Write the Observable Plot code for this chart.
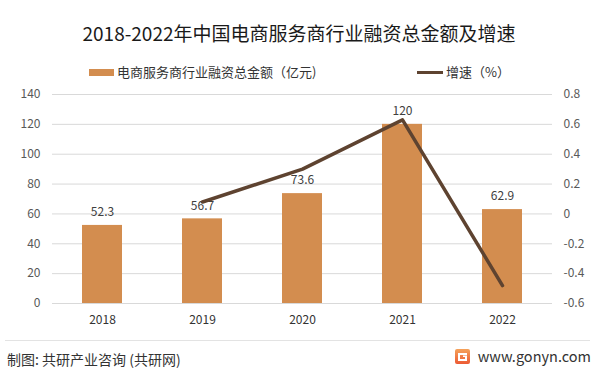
<!DOCTYPE html>
<html><head><meta charset="utf-8">
<script src="https://cdn.jsdelivr.net/npm/d3@7"></script>
<script src="https://cdn.jsdelivr.net/npm/@observablehq/plot@0.6"></script>
<style>
body{margin:0;background:#fff;}
#wrap{position:relative;width:598px;height:372px;overflow:hidden;font-family:"Noto Sans CJK SC","Noto Sans",sans-serif;background:#fff}
#title{position:absolute;left:0;width:598px;top:19px;text-align:center;font-size:19px;line-height:28px;color:#1a1a1a;white-space:nowrap}
.leg{position:absolute;top:63px;height:18px;line-height:18px;font-size:13px;color:#333;white-space:nowrap;display:flex;align-items:center}
.sw{display:inline-block;margin-right:3px}
#chart{position:absolute;left:0;top:85px}
#rule{position:absolute;left:5px;width:585px;top:340px;height:1px;background:#e3e3e3}
#src{position:absolute;left:7px;top:349px;font-size:14px;line-height:20px;color:#333;white-space:nowrap}
#site{position:absolute;right:7px;top:346px;font-size:14.5px;line-height:20px;color:#333;white-space:nowrap;display:flex;align-items:center}
</style>
</head><body>
<div id="wrap">
  <div id="title">2018-2022年中国电商服务商行业融资总金额及增速</div>
  <div class="leg" style="left:89px"><span class="sw" style="width:25px;height:7px;background:#d38d4f"></span>电商服务商行业融资总金额（亿元)</div>
  <div class="leg" style="left:417px"><span class="sw" style="width:26px;height:3px;background:#5e4330"></span>增速（%）</div>
  <div id="chart"></div>
  <div id="rule"></div>
  <div id="src">制图: 共研产业咨询 (共研网)</div>
  <div id="site"><svg width="15" height="15" viewBox="0 0 15 15" style="margin-right:8px"><defs><linearGradient id="lg" x1="0" y1="0" x2="0" y2="1"><stop offset="0" stop-color="#f5a25a"/><stop offset="1" stop-color="#ec5a34"/></linearGradient></defs><rect x="0" y="0" width="15" height="15" rx="2" fill="url(#lg)"/><path d="M3 4h9v2H5v4h5V8H8V6.5h4V12H3z" fill="#fff"/></svg>www.gonyn.com</div>
</div>
<script>
const years = ["2018", "2019", "2020", "2021", "2022"];
const amounts = [52.3, 56.7, 73.6, 120, 62.9];
const growthYears = ["2019", "2020", "2021", "2022"];
const growth = [0.08, 0.30, 0.63, -0.48];
const leftTicks = [0, 20, 40, 60, 80, 100, 120, 140];
const rightTicks = [-0.6, -0.4, -0.2, 0, 0.2, 0.4, 0.6, 0.8];

const rMin = -0.6, rMax = 0.8, lMax = 140;
const toPrimary = g => (g - rMin) / (rMax - rMin) * lMax;
const fromPrimary = v => Math.round((v / lMax * (rMax - rMin) + rMin) * 10) / 10;

const barData = years.map((y, i) => ({year: y, amount: amounts[i]}));
const lineData = growthYears.map((y, i) => ({year: y, g: growth[i]}));

const chart = Plot.plot({
  width: 598,
  height: 250,
  marginTop: 9,
  marginBottom: 32,
  marginLeft: 52,
  marginRight: 46,
  style: {fontFamily: '"Noto Sans CJK SC","Noto Sans",sans-serif', fontSize: "12px", color: "#595959", background: "transparent"},
  x: {domain: years, paddingInner: 0.6, paddingOuter: 0.3, label: null},
  y: {domain: [0, lMax], label: null},
  marks: [
    Plot.gridY(leftTicks, {stroke: "#d9d9d9", strokeOpacity: 1}),
    Plot.barY(barData, {x: "year", y: "amount", fill: "#d38d4f"}),
    Plot.text(barData, {x: "year", y: "amount", text: d => String(d.amount), dy: -13, fill: "#404040", fontSize: 12}),
    Plot.line(lineData, {x: "year", y: d => toPrimary(d.g), stroke: "#5e4330", strokeWidth: 3.5, strokeLinecap: "round", strokeLinejoin: "round"}),
    Plot.axisY(leftTicks, {anchor: "left", tickSize: 0, tickPadding: 12, label: null, fill: "#595959"}),
    Plot.axisY(rightTicks.map(toPrimary), {anchor: "right", tickSize: 0, tickPadding: 11, label: null, tickFormat: v => String(fromPrimary(v)), fill: "#595959"}),
    Plot.axisX({tickSize: 0, tickPadding: 12, label: null, fill: "#333"})
  ]
});
document.getElementById("chart").appendChild(chart);
</script>
</body></html>
